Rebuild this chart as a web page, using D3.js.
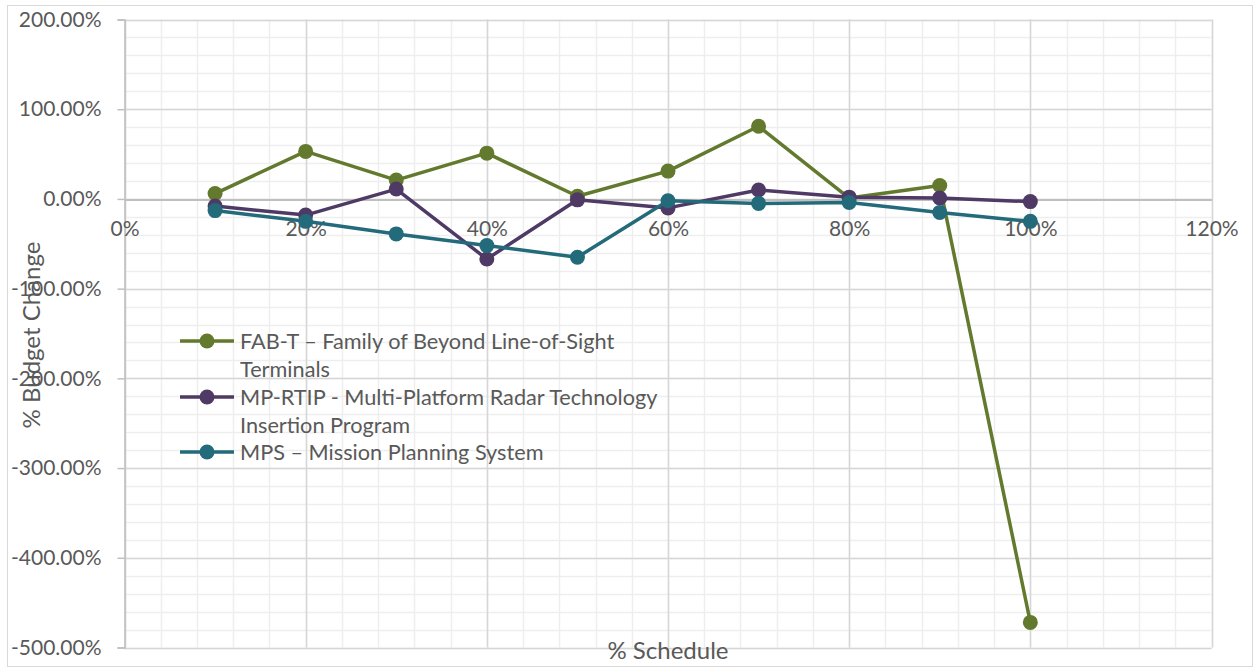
<!DOCTYPE html>
<html>
<head>
<meta charset="utf-8">
<script src="https://cdn.jsdelivr.net/npm/d3@7"></script>
<style>
  body { margin: 0; background: #fff; }
  text { font-family: Lato, "Open Sans", sans-serif; fill: #595959; }
</style>
</head>
<body>
<div id="wrapper"></div>
<script>
// % schedule (x) for every point
var schedule = [10, 20, 30, 40, 50, 60, 70, 80, 90, 100];

// % budget change per program
var fabT   = [6, 53, 21, 51, 3, 31, 81, 1, 15, -472];
var mpRtip = [-8, -18, 11, -67, -1, -10, 10, 2, 1, -3];
var mps    = [-13, -25, -39, -52, -65, -2, -5, -4, -15, -25];

var seriesNames = [
  ["FAB-T \u2013 Family of Beyond Line-of-Sight", "Terminals"],
  ["MP-RTIP - Multi-Platform Radar Technology", "Insertion Program"],
  ["MPS \u2013 Mission Planning System"]
];
var seriesColors = ["#637a2e", "#4f3a65", "#236a7b"];

var xTicks = [0, 20, 40, 60, 80, 100, 120];
var yTicks = [200, 100, 0, -100, -200, -300, -400, -500];

var width = 1255, height = 668;
var svg = d3.select('#wrapper')
            .append('svg')
            .attr('width', width)
            .attr('height', height);

// outer chart border
svg.append('rect')
   .attr('x', 7.5).attr('y', 5.5)
   .attr('width', 1245).attr('height', 661)
   .attr('fill', '#fff')
   .attr('stroke', '#d9d9d9');

var x = d3.scaleLinear().domain([0, 120]).range([124.5, 1211.5]);
var y = d3.scaleLinear().domain([-500, 200]).range([647.5, 19.5]);

// minor grid
var grid = svg.append('g');
grid.selectAll('line.vmin')
    .data(d3.range(0, 121, 4))
    .enter().append('line')
    .attr('x1', function(d) { return Math.round(x(d)) + 0.5; })
    .attr('x2', function(d) { return Math.round(x(d)) + 0.5; })
    .attr('y1', y(200)).attr('y2', y(-500))
    .attr('stroke', '#eeeeee').attr('stroke-width', 1.5);
grid.selectAll('line.hmin')
    .data(d3.range(-500, 201, 20))
    .enter().append('line')
    .attr('x1', x(0)).attr('x2', x(120))
    .attr('y1', function(d) { return Math.round(y(d)) + 0.5; })
    .attr('y2', function(d) { return Math.round(y(d)) + 0.5; })
    .attr('stroke', '#eeeeee').attr('stroke-width', 1.5);

// major grid
grid.selectAll('line.vmaj')
    .data(xTicks)
    .enter().append('line')
    .attr('x1', function(d) { return Math.round(x(d)) + 0.5; })
    .attr('x2', function(d) { return Math.round(x(d)) + 0.5; })
    .attr('y1', y(200)).attr('y2', y(-500))
    .attr('stroke', '#d6d6d6').attr('stroke-width', 1.5);
grid.selectAll('line.hmaj')
    .data(yTicks)
    .enter().append('line')
    .attr('x1', x(0)).attr('x2', x(120))
    .attr('y1', function(d) { return Math.round(y(d)) + 0.5; })
    .attr('y2', function(d) { return Math.round(y(d)) + 0.5; })
    .attr('stroke', '#d6d6d6').attr('stroke-width', 1.5);

// y axis
var yAxis = svg.append('g')
   .attr('transform', 'translate(' + x(0) + ',0)')
   .call(d3.axisLeft(y).tickValues(yTicks)
           .tickFormat(function(d) { return d.toFixed(2) + '%'; })
           .tickSize(7).tickPadding(16));
yAxis.select('.domain').attr('stroke', '#bfbfbf').attr('stroke-width', 1.5);
yAxis.selectAll('.tick line').attr('stroke', '#bfbfbf').attr('stroke-width', 1.5);
yAxis.selectAll('text').style('font-size', '21px').attr('fill', '#595959')
     .style('font-family', 'Lato, sans-serif');

// x axis at zero
var xAxis = svg.append('g')
   .attr('transform', 'translate(0,' + (Math.round(y(0)) + 0.5) + ')')
   .call(d3.axisBottom(x).tickValues(xTicks)
           .tickFormat(function(d) { return d + '%'; })
           .tickSize(0).tickPadding(22));
xAxis.select('.domain').attr('stroke', '#bfbfbf').attr('stroke-width', 2);
xAxis.selectAll('text').style('font-size', '21px').attr('fill', '#595959')
     .style('font-family', 'Lato, sans-serif');

// series
var allSeries = [fabT, mpRtip, mps];
var line = d3.line()
             .x(function(d, i) { return x(schedule[i]); })
             .y(function(d) { return y(d); });

allSeries.forEach(function(values, k) {
  var g = svg.append('g');
  g.append('path')
   .attr('d', line(values))
   .attr('fill', 'none')
   .attr('stroke', seriesColors[k])
   .attr('stroke-width', 3.5)
   .attr('stroke-linejoin', 'round');
  g.selectAll('circle')
   .data(values)
   .enter().append('circle')
   .attr('cx', function(d, i) { return x(schedule[i]); })
   .attr('cy', function(d) { return y(d); })
   .attr('r', 7.5)
   .attr('fill', seriesColors[k]);
});

// axis titles
svg.append('text')
   .attr('x', 668).attr('y', 659)
   .attr('text-anchor', 'middle')
   .style('font-size', '24px')
   .text('% Schedule');

svg.append('text')
   .attr('transform', 'translate(40,335) rotate(-90)')
   .attr('text-anchor', 'middle')
   .style('font-size', '24px')
   .text('% Budget Change');

// legend
var legendY = [341, 397, 452];
var legend = svg.append('g');
seriesNames.forEach(function(lines, k) {
  var g = legend.append('g').attr('transform', 'translate(0,' + legendY[k] + ')');
  g.append('line')
   .attr('x1', 180).attr('x2', 234)
   .attr('stroke', seriesColors[k]).attr('stroke-width', 3.5);
  g.append('circle').attr('cx', 207).attr('r', 7.5).attr('fill', seriesColors[k]);
  lines.forEach(function(t, j) {
    g.append('text')
     .attr('x', 240).attr('y', j * 28 + 8)
     .style('font-size', '21.7px')
     .text(t);
  });
});
</script>
</body>
</html>
